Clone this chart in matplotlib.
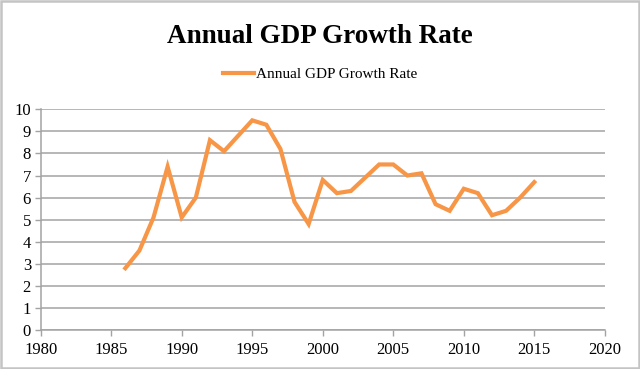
import matplotlib
matplotlib.use("Agg")
import matplotlib.pyplot as plt
from matplotlib.patches import Rectangle

# Data
years = list(range(1986, 2016))
growth = [2.8, 3.6, 5.1, 7.4, 5.1, 6.0, 8.6, 8.1, 8.8, 9.5,
          9.3, 8.2, 5.8, 4.8, 6.8, 6.2, 6.3, 6.9, 7.5, 7.5,
          7.0, 7.1, 5.7, 5.4, 6.4, 6.2, 5.2, 5.4, 6.0, 6.7]
x_ticks = [1980, 1985, 1990, 1995, 2000, 2005, 2010, 2015, 2020]
y_ticks = list(range(0, 11))
title = "Annual GDP Growth Rate"

plt.rcParams['font.family'] = ['Liberation Serif', 'DejaVu Serif']

fig = plt.figure(figsize=(6.4, 3.69), dpi=100)
ax = fig.add_axes([0.0636, 0.1057, 0.8814, 0.5981])

ax.plot(years, growth, color="#F79646", linewidth=3, label=title,
        solid_joinstyle="miter")

ax.set_xlim(1980, 2020)
ax.set_ylim(0, 10)
ax.set_xticks(x_ticks)
ax.set_yticks(y_ticks)
ax.grid(axis="y", color="#a3a3a3", linewidth=1.1)
ax.set_axisbelow(True)

for side in ("top", "right"):
    ax.spines[side].set_visible(False)
for side in ("left", "bottom"):
    ax.spines[side].set_color("#a3a3a3")
    ax.spines[side].set_linewidth(1.1)
ax.tick_params(axis="both", colors="#a3a3a3", labelcolor="black",
               labelsize=12, length=4, width=1)
ax.tick_params(axis="x", pad=5)
ax.tick_params(axis="y", pad=3)

fig.text(0.5, 0.902, title, ha="center", va="center",
         fontsize=19.5, fontweight="bold")
fig.legend(loc="center", bbox_to_anchor=(0.5, 0.798), frameon=False,
           fontsize=11, handlelength=2.0, handletextpad=0.15)

# light border around the whole chart area
fig.patches.append(Rectangle((0.002, 0.003), 0.996, 0.994,
                             transform=fig.transFigure, fill=False,
                             edgecolor="#c4c4c4", linewidth=1.8))

fig.savefig("out.png", dpi=100)
